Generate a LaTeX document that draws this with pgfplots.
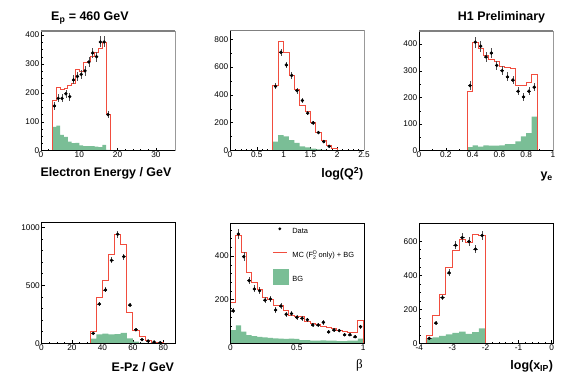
\documentclass[border=0pt]{standalone}
\usepackage{pgfplots}
\pgfplotsset{compat=1.18}
\usepackage{pgfplotstable}
\usepackage{fontspec}
\setmainfont{Liberation Sans}
\newfontfamily\greekfont{Liberation Serif}
\definecolor{bggreen}{rgb}{0.478,0.745,0.588}
\definecolor{mcred}{cmyk}{0,0.75,0.75,0}
\definecolor{ebar}{cmyk}{0,0,0,0.8}

% ---------- Electron energy ----------
\pgfplotstableread{
lo mc bg
3 0 0
3 173 82
4 219 87
5 213 55
6 216 48
7 225 31
8 234 26
9 282 27
10 275 18
11 306 16
12 309 16
13 327 16
14 341 14
15 353 12
16 376 20
17 125 3
18 0 0
}\hA
\pgfplotstableread{
x y ey
3.5 155 13
4.5 181 14
5.5 181 14
6.5 197 14
7.5 187 14
8.5 245 16
9.5 257 16
10.5 264 16
11.5 276 17
12.5 307 18
13.5 338 18
14.5 325 18
15.5 376 19
16.5 376 19
17.5 125 11
}\dA
% ---------- log Q2 ----------
\pgfplotstableread{
lo mc bg
0.8 0 0
0.8 470 64
0.9 786 110
1.0 709 102
1.1 543 74
1.2 437 54
1.3 326 30
1.4 283 23
1.5 204 13
1.6 131 8
1.7 71 5
1.8 37 3
1.9 13 1
2.0 0 0
}\hB
\pgfplotstableread{
x y ey
0.85 461 21
0.95 706 27
1.05 615 25
1.15 540 23
1.25 430 21
1.35 360 19
1.45 269 16
1.55 199 14
1.65 129 11
1.75 64 8
1.85 30 6
}\dB
% ---------- y_e ----------
\pgfplotstableread{
lo mc bg
0.36 0 0
0.36 221 13
0.40 405 20
0.44 384 15
0.48 359 20
0.52 342 19
0.56 335 19
0.60 315 20
0.64 312 25
0.68 310 25
0.72 246 35
0.76 246 54
0.80 256 66
0.84 285 128
0.88 0 0
}\hC
\pgfplotstableread{
x y ey
0.38 244 16
0.42 407 20
0.46 392 20
0.50 352 19
0.54 366 19
0.58 320 18
0.62 300 17
0.66 277 17
0.70 265 16
0.74 223 15
0.78 202 14
0.82 223 15
0.86 238 15
}\dC
% ---------- E-Pz ----------
\pgfplotstableread{
lo mc bg
32 0 0
32 100 40
36 397 77
40 540 83
44 767 77
48 940 80
52 853 89
56 267 43
60 109 14
64 57 4
68 22 2
72 10 1
76 5 0
80 0 0
}\hD
\pgfplotstableread{
x y ey
34 86 9
38 339 18
42 460 21
46 715 27
50 940 31
54 747 27
58 330 18
62 117 11
66 31 6
70 20 4
74 11 3
78 5 2
}\dD
% ---------- beta ----------
\pgfplotstableread{
lo mc bg
0.00 0 0
0.00 188 60
0.04 496 82
0.08 415 53
0.12 325 38
0.16 281 33
0.20 249 30
0.24 209 27
0.28 201 25
0.32 172 23
0.36 172 22
0.40 153 20
0.44 130 22
0.48 122 20
0.52 122 15
0.56 102 15
0.60 92 12
0.64 87 12
0.68 79 13
0.72 73 12
0.76 67 12
0.80 61 10
0.84 53 10
0.88 49 12
0.92 50 12
0.96 107 22
1.00 0 0
}\hE
\pgfplotstableread{
x y ey
0.02 149 12
0.06 501 22
0.10 397 20
0.14 287 17
0.18 249 16
0.22 241 16
0.26 198 14
0.30 203 14
0.34 153 12
0.38 171 13
0.42 133 12
0.46 136 12
0.50 119 11
0.54 115 11
0.58 108 10
0.62 84 9
0.66 84 9
0.70 96 10
0.74 52 7
0.78 61 8
0.82 58 8
0.86 39 6
0.90 39 6
0.94 30 6
0.98 76 9
}\dE
% ---------- log x_IP ----------
\pgfplotstableread{
lo mc bg
-3.8 0 0
-3.8 45 31
-3.6 166 35
-3.4 290 43
-3.2 445 53
-3.0 547 61
-2.8 608 68
-2.6 592 55
-2.4 637 65
-2.2 635 88
-2.0 0 0
}\hF
\pgfplotstableread{
x y ey
-3.7 29 6
-3.5 119 11
-3.3 268 16
-3.1 414 20
-2.9 576 24
-2.7 621 25
-2.5 598 24
-2.3 553 24
-2.1 633 25
}\dF

\pgfplotsset{
  h1/.style={
    scale only axis, width=134bp, height=120bp,
    anchor=south west,
    axis line style={draw=none},
    tick align=inside,
    xtick pos=bottom, ytick pos=left,
    major tick length=3bp, minor tick length=1.6bp,
    every tick/.style={line width=0.4pt},
    tick label style={font=\fontsize{8.3}{9}\selectfont},
    /pgf/number format/assume math mode=true,
    /pgf/number format/1000 sep={},
    xticklabel style={inner sep=1.2bp},
    yticklabel style={inner sep=1.6bp},
    scaled y ticks=false, scaled x ticks=false,
    clip=false,
    ymin=0,
    xlabel style={font=\fontsize{12.5}{13}\selectfont\bfseries, inner sep=0pt},
  },
  toprow/.style={execute at end axis={
     \draw[color=black, line width=0.5pt] (rel axis cs:0,1) -- (rel axis cs:0,0) -- (rel axis cs:1,0);
     \draw[color=black!40, line width=0.3pt] (rel axis cs:1,0) -- (rel axis cs:1,1);
     \draw[color=black!50, line width=1.8bp] (rel axis cs:0,1) -- (rel axis cs:1,1);
  }},
  botrow/.style={execute at end axis={
     \draw[color=black, line width=0.5pt] (rel axis cs:0,0) rectangle (rel axis cs:1,1);
  }},
  mc/.style={const plot mark left, color=mcred, draw=mcred, line width=0.8pt, mark=none},
  bg/.style={const plot mark left, color=bggreen, fill=bggreen, draw=none, mark=none},
  dat/.style={only marks, mark=*, mark size=1.5pt, color=black,
    error bars/.cd, y dir=both, y explicit, x dir=both, x fixed=#1,
    error mark=none, error bar style={color=ebar, draw=ebar, line width=0.5pt}, /pgfplots/.cd},
}

\begin{document}
\begin{tikzpicture}
\useasboundingbox (0,0) rectangle (567bp,384bp);

\node[anchor=base west, inner sep=0pt, font=\fontsize{12.5}{13}\selectfont\bfseries] at (51bp,363.3bp) {E\textsubscript{p} = 460 GeV};
\node[anchor=base east, inner sep=0pt, font=\fontsize{12.5}{13}\selectfont\bfseries] at (545.3bp,363.3bp) {H1 Preliminary};

% Panel 1
\begin{axis}[h1, toprow, at={(41bp,233.3bp)}, xmin=0, xmax=35, ymax=415,
  xtick={0,10,20,30}, minor x tick num=4, ytick={0,100,...,400}, minor y tick num=3,
  xlabel={Electron Energy / GeV},
  xlabel style={at={(axis description cs:0.5,0)}, anchor=base, xshift=-2bp, yshift=-26bp}]
\addplot[bg] table[x=lo,y=bg]{\hA} \closedcycle;
\addplot[mc] table[x=lo,y=mc]{\hA};
\addplot[dat=0.3] table[x=x,y=y,y error=ey]{\dA};
\end{axis}

% Panel 2
\begin{axis}[h1, toprow, at={(230bp,233.5bp)}, xmin=0, xmax=2.5, ymax=863,
  xtick={0,0.5,...,2.5}, minor x tick num=4, ytick={0,200,...,800}, minor y tick num=1,
  xlabel={log(Q\textsuperscript{2})},
  xlabel style={at={(axis description cs:1,0)}, anchor=base east, xshift=-0.5bp, yshift=-27bp}]
\addplot[bg] table[x=lo,y=bg]{\hB} \closedcycle;
\addplot[mc] table[x=lo,y=mc]{\hB};
\addplot[dat=0.03] table[x=x,y=y,y error=ey]{\dB};
\end{axis}

% Panel 3
\begin{axis}[h1, toprow, at={(419bp,233.3bp)}, xmin=0, xmax=1, ymax=450,
  xtick={0,0.2,...,1}, minor x tick num=1, ytick={0,100,...,400}, minor y tick num=1,
  xlabel={y\textsubscript{e}},
  xlabel style={at={(axis description cs:1,0)}, anchor=base east, yshift=-28bp}]
\addplot[bg] table[x=lo,y=bg]{\hC} \closedcycle;
\addplot[mc] table[x=lo,y=mc]{\hC};
\addplot[dat=0.013] table[x=x,y=y,y error=ey]{\dC};
\end{axis}

% Panel 4
\begin{axis}[h1, botrow, at={(41.5bp,40.7bp)}, height=121bp, xmin=0, xmax=88, ymax=1043,
  xtick={0,20,...,80}, minor x tick num=3, ytick={0,500,1000}, minor y tick num=4,
  xlabel={E-Pz / GeV},
  xlabel style={at={(axis description cs:1,0)}, anchor=base east, xshift=-1.3bp, yshift=-28bp}]
\addplot[bg] table[x=lo,y=bg]{\hD} \closedcycle;
\addplot[mc] table[x=lo,y=mc]{\hD};
\addplot[dat=1.3] table[x=x,y=y,y error=ey]{\dD};
\end{axis}

% Panel 5
\begin{axis}[h1, botrow, at={(230.5bp,40.7bp)}, xmin=0, xmax=1.01, ymax=550,
  xtick={0,0.5,1}, minor x tick num=4, ytick={200,400}, minor ytick={40,80,...,520},
  xlabel={\greekfont\mdseries\fontsize{13}{13}\selectfont β},
  xlabel style={at={(axis description cs:1,0)}, anchor=base east, xshift=-1.7bp, yshift=-25bp},
  reverse legend,
  legend cell align=left,
  legend style={at={(0.313,1.025)}, anchor=north west, draw=none, fill=none,
    inner sep=0pt, outer sep=0pt, row sep=7bp, column sep=3bp,
    font=\fontsize{7.5}{8}\selectfont, nodes={inner sep=0.5bp}}]
\addplot[bg, legend image code/.code={\path[draw=none,fill=none] (0bp,-6.1bp) rectangle (16bp,10.9bp);
   \fill[color=bggreen, draw=none] (0bp,-5.9bp) rectangle (16bp,10.7bp);}] table[x=lo,y=bg]{\hE} \closedcycle;
\addlegendentry{BG}
\addplot[mc, legend image code/.code={\path[draw=none,fill=none] (0bp,-6.1bp) rectangle (16bp,10.9bp);
   \draw[color=mcred, line width=0.8pt] (0bp,2.4bp) -- (14.4bp,2.4bp);}] table[x=lo,y=mc]{\hE};
\addlegendentry{MC (F\rlap{\textsuperscript{D}}\textsubscript{2} only) + BG}
\addplot[dat=0.013, forget plot] table[x=x,y=y,y error=ey]{\dE};
\addlegendimage{legend image code/.code={\path[draw=none,fill=none] (0bp,-6.1bp) rectangle (16bp,10.9bp);
   \fill[color=black, draw=none] (7bp,2.4bp) circle (1.6bp);}}
\addlegendentry{Data}
\end{axis}

% Panel 6
\begin{axis}[h1, botrow, at={(419.3bp,40.7bp)}, xmin=-4, xmax=0.05, ymax=705,
  xtick={-4,-3,-2,-1,0}, minor x tick num=4, ytick={0,200,...,600}, minor y tick num=3,
  xlabel={log(x\textsubscript{IP})},
  xlabel style={at={(axis description cs:1,0)}, anchor=base east, yshift=-26bp}]
\addplot[bg] table[x=lo,y=bg]{\hF} \closedcycle;
\addplot[mc] table[x=lo,y=mc]{\hF};
\addplot[dat=0.07] table[x=x,y=y,y error=ey]{\dF};
\end{axis}
\end{tikzpicture}
\end{document}
